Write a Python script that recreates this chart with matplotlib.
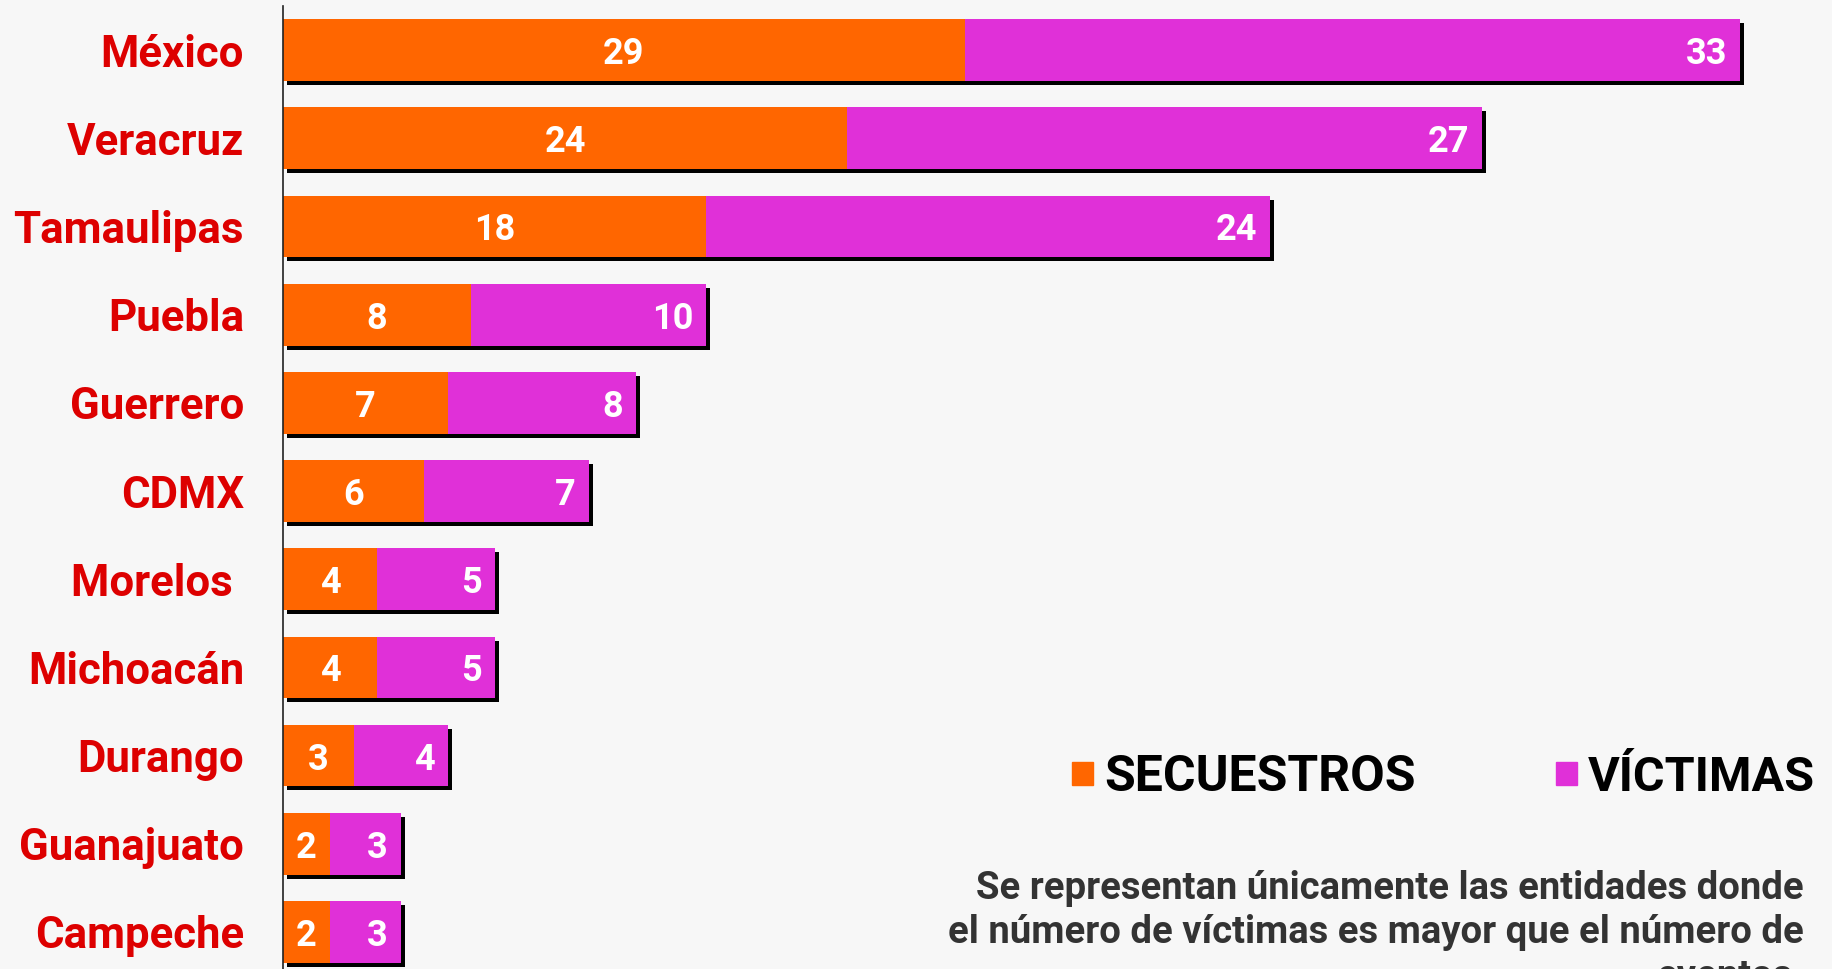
import matplotlib
matplotlib.use("Agg")
import matplotlib.pyplot as plt
import matplotlib.patheffects as pe
from matplotlib.patches import Rectangle
import numpy as np

plt.rcParams['font.family'] = ['Roboto', 'DejaVu Sans']

# datos
estados = ['México', 'Veracruz', 'Tamaulipas', 'Puebla', 'Guerrero', 'CDMX',
           'Morelos ', 'Michoacán', 'Durango', 'Guanajuato', 'Campeche']
secuestros = np.array([29, 24, 18, 8, 7, 6, 4, 4, 3, 2, 2])
victimas = np.array([33, 27, 24, 10, 8, 7, 5, 5, 4, 3, 3])

nota = ['Se representan únicamente las entidades donde',
        'el número de víctimas es mayor que el número de',
        'eventos.']

NARANJA = '#FF6600'
MAGENTA = '#E030D8'
ROJO = '#DD0000'
FONDO = '#F7F7F7'

W, H = 1832, 969
fig = plt.figure(figsize=(W / 100, H / 100), dpi=100, facecolor=FONDO)
ax = fig.add_axes([283 / W, 0, 1 - 283 / W, 1 - 6 / H])
ax.set_facecolor(FONDO)

y = np.arange(len(estados))
sombra = [pe.SimplePatchShadow(offset=(2.9, -2.9), shadow_rgbFace='black', alpha=1), pe.Normal()]

ax.barh(y, secuestros, height=0.70, color=NARANJA, path_effects=sombra)
ax.barh(y, victimas, left=secuestros, height=0.70, color=MAGENTA, path_effects=sombra)

for i in range(len(estados)):
    ax.text(secuestros[i] / 2, y[i], str(secuestros[i]), ha='center', va='center_baseline',
            color='white', fontsize=26, fontweight='bold')
    ax.annotate(str(victimas[i]), xy=(secuestros[i] + victimas[i], y[i]), xytext=(-9, 0),
                textcoords='offset points', ha='right', va='center_baseline',
                color='white', fontsize=26, fontweight='bold')

ax.set_xlim(0, (W - 283) / 23.5)
ax.set_ylim(10.42, -0.5)
ax.set_xticks([])
ax.set_yticks(y, estados, color=ROJO, fontsize=31.5, fontweight='bold')
ax.tick_params(axis='y', length=0, pad=28)
for s in ['top', 'right', 'bottom']:
    ax.spines[s].set_visible(False)
ax.spines['left'].set_color('#222222')
ax.spines['left'].set_linewidth(1.2)

# leyenda
fig.patches.append(Rectangle((1072 / W, 1 - 785 / H), 21 / W, 23 / H, color=NARANJA,
                             transform=fig.transFigure))
fig.text(1104 / W, 1 - 791 / H, 'SECUESTROS', ha='left', va='baseline',
         fontsize=36, fontweight='bold', color='black')
fig.patches.append(Rectangle((1556 / W, 1 - 785 / H), 21 / W, 23 / H, color=MAGENTA,
                             transform=fig.transFigure))
fig.text(1588 / W, 1 - 791 / H, 'VÍCTIMAS', ha='left', va='baseline',
         fontsize=35, fontweight='bold', color='black')

# nota
for k, linea in enumerate(nota):
    fig.text(1804 / W, 1 - (899 + 44 * k) / H, linea, ha='right', va='baseline',
             fontsize=27.5, fontweight='bold', color='#333333')

fig.savefig('out.png', dpi=100, facecolor=FONDO)
